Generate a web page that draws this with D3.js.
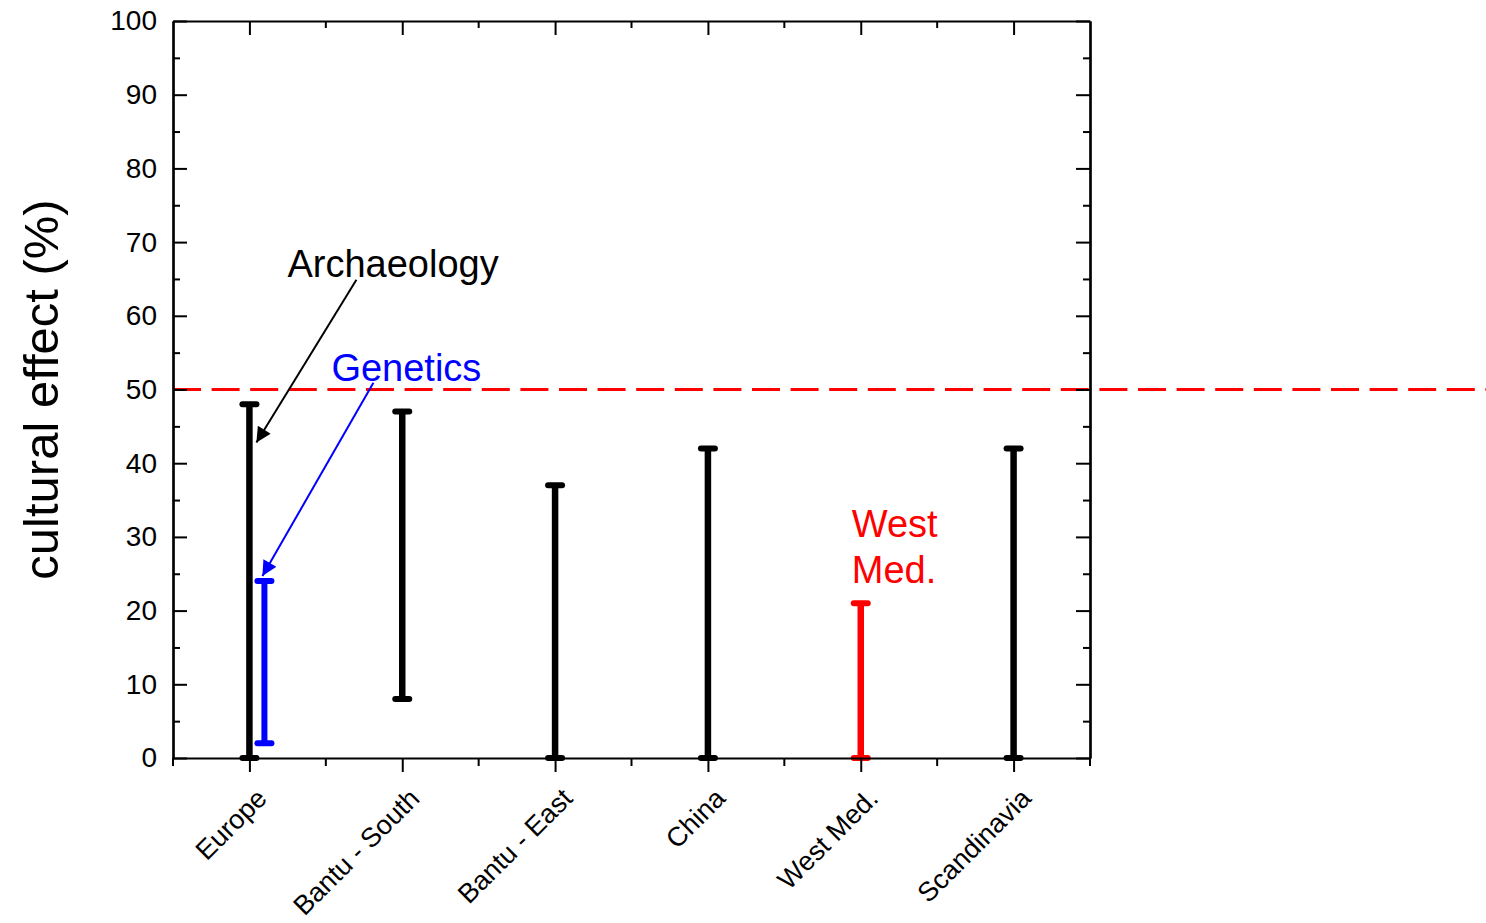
<!DOCTYPE html>
<html>
<head>
<meta charset="utf-8">
<script src="https://cdn.jsdelivr.net/npm/d3@7"></script>
<style>
  html, body { margin: 0; padding: 0; background: #fff; }
  svg { display: block; font-family: Arial, "Liberation Sans", sans-serif; }
</style>
</head>
<body>
<svg id="chart" width="1486" height="923"></svg>
<script>
// Ranges of the cultural effect estimated per region (percent)
const categories = ["Europe", "Bantu - South", "Bantu - East", "China", "West Med.", "Scandinavia"];
const archaeologyLow  = [0, 8, 0, 0, 0, 0];
const archaeologyHigh = [48, 47, 37, 42, 21, 42];

// Genetics-based estimate, available for Europe only
const geneticsCategories = ["Europe"];
const geneticsLow  = [2];
const geneticsHigh = [24];

// Reference level
const thresholdValue = 50;

const yMajorTicks = [0, 10, 20, 30, 40, 50, 60, 70, 80, 90, 100];
const yMinorTicks = [5, 15, 25, 35, 45, 55, 65, 75, 85, 95];

(function draw() {
  const svg = d3.select("#chart");
  const W = 1486;
  const plotL = 173, plotR = 1090, plotT = 21, plotB = 758;

  const x = d3.scalePoint().domain(categories).range([plotL, plotR]).padding(0.5);
  const xBand = d3.scaleBand().domain(categories).range([plotL, plotR]);
  const y = d3.scaleLinear().domain([0, 100]).range([plotB, plotT]);

  const rows = categories.map((c, i) => ({ cat: c, lo: archaeologyLow[i], hi: archaeologyHigh[i] }));
  const genRows = geneticsCategories.map((c, i) => ({ cat: c, lo: geneticsLow[i], hi: geneticsHigh[i] }));

  const colorFor = c => c === "West Med." ? "#ff0000" : "#000000";

  // reference line at 50 %
  svg.append("line")
    .attr("x1", plotL).attr("x2", W)
    .attr("y1", y(thresholdValue)).attr("y2", y(thresholdValue))
    .attr("stroke", "#ff0000").attr("stroke-width", 3)
    .attr("stroke-dasharray", "28,10.6");

  // range bars with caps
  function drawRanges(data, offset, color, width, capHalf) {
    const g = svg.append("g");
    g.selectAll("line.stem").data(data).join("line")
      .attr("class", "stem")
      .attr("x1", d => x(d.cat) + offset).attr("x2", d => x(d.cat) + offset)
      .attr("y1", d => y(d.lo)).attr("y2", d => y(d.hi))
      .attr("stroke", d => color || colorFor(d.cat))
      .attr("stroke-width", width);
    ["lo", "hi"].forEach(k => {
      g.selectAll("line.cap-" + k).data(data).join("line")
        .attr("class", "cap-" + k)
        .attr("x1", d => x(d.cat) + offset - capHalf).attr("x2", d => x(d.cat) + offset + capHalf)
        .attr("y1", d => y(d[k])).attr("y2", d => y(d[k]))
        .attr("stroke", d => color || colorFor(d.cat))
        .attr("stroke-width", 6)
        .attr("stroke-linecap", "round");
    });
  }
  drawRanges(rows, 0, null, 6.5, 7);
  drawRanges(genRows, 15, "#0000ff", 6, 7);

  // axes
  const axisG = svg.append("g").attr("class", "axes");

  const yLeft = axisG.append("g").attr("transform", `translate(${plotL},0)`)
    .call(d3.axisLeft(y).tickValues(yMajorTicks).tickSizeInner(-14).tickSizeOuter(0).tickPadding(16));
  axisG.append("g").attr("transform", `translate(${plotL},0)`)
    .call(d3.axisLeft(y).tickValues(yMinorTicks).tickSizeInner(-7).tickSizeOuter(0).tickFormat(""));
  axisG.append("g").attr("transform", `translate(${plotR},0)`)
    .call(d3.axisRight(y).tickValues(yMajorTicks).tickSizeInner(-14).tickSizeOuter(0).tickFormat(""));
  axisG.append("g").attr("transform", `translate(${plotR},0)`)
    .call(d3.axisRight(y).tickValues(yMinorTicks).tickSizeInner(-7).tickSizeOuter(0).tickFormat(""));

  axisG.append("g").attr("transform", `translate(0,${plotB})`)
    .call(d3.axisBottom(x).tickSizeInner(14).tickSizeOuter(0).tickFormat(""));
  // minor ticks on the band edges
  const edges = categories.map(c => xBand(c)).concat([plotR]);
  axisG.append("g").selectAll("line").data(edges).join("line")
    .attr("x1", d => d).attr("x2", d => d)
    .attr("y1", plotB).attr("y2", plotB + 8)
    .attr("stroke", "#000").attr("stroke-width", 2);

  axisG.append("g").attr("transform", `translate(0,${plotT})`)
    .call(d3.axisTop(x).tickSizeInner(-14).tickSizeOuter(0).tickFormat(""));
  axisG.append("g").selectAll("line").data(edges.slice(1, -1)).join("line")
    .attr("x1", d => d).attr("x2", d => d)
    .attr("y1", plotT).attr("y2", plotT + 7)
    .attr("stroke", "#000").attr("stroke-width", 2);

  axisG.selectAll(".domain").attr("stroke", "#000").attr("stroke-width", 2.2);
  axisG.selectAll(".tick line").attr("stroke", "#000").attr("stroke-width", 2);
  yLeft.selectAll(".tick text")
    .attr("font-size", 28).attr("fill", "#000")
    .attr("font-family", "Arial, 'Liberation Sans', sans-serif");

  // rotated category labels
  svg.append("g").selectAll("text").data(categories).join("text")
    .attr("transform", d => `translate(${x(d) + 19},${plotB + 42}) rotate(-45)`)
    .attr("text-anchor", "end")
    .attr("font-size", 27)
    .attr("fill", "#000")
    .text(d => d);

  // y-axis title
  svg.append("text")
    .attr("transform", `translate(58,${(plotT + plotB) / 2}) rotate(-90)`)
    .attr("text-anchor", "middle")
    .attr("font-size", 49)
    .attr("fill", "#000")
    .text("cultural effect (%)");

  // annotations
  const defs = svg.append("defs");
  function marker(id, color) {
    defs.append("marker")
      .attr("id", id).attr("viewBox", "0 0 10 10")
      .attr("refX", 10).attr("refY", 5)
      .attr("markerUnits", "userSpaceOnUse")
      .attr("markerWidth", 22).attr("markerHeight", 15)
      .attr("orient", "auto")
      .append("path").attr("d", "M0,0 L10,5 L0,10 Z").attr("fill", color);
  }
  marker("arrowBlack", "#000");
  marker("arrowBlue", "#0000ff");

  const europeX = x("Europe");

  svg.append("line")
    .attr("x1", europeX + 107).attr("y1", y(64.9))
    .attr("x2", europeX + 7).attr("y2", y(42.8))
    .attr("stroke", "#000").attr("stroke-width", 2)
    .attr("marker-end", "url(#arrowBlack)");
  svg.append("text")
    .attr("x", europeX + 38).attr("y", y(65.3))
    .attr("font-size", 38).attr("fill", "#000")
    .text("Archaeology");

  svg.append("line")
    .attr("x1", europeX + 124).attr("y1", y(50.9))
    .attr("x2", europeX + 13).attr("y2", y(24.7))
    .attr("stroke", "#0000ff").attr("stroke-width", 2)
    .attr("marker-end", "url(#arrowBlue)");
  svg.append("text")
    .attr("x", europeX + 82).attr("y", y(51.1))
    .attr("font-size", 38).attr("fill", "#0000ff")
    .text("Genetics");

  const wmX = x("West Med.") - 9;
  const wm = svg.append("text")
    .attr("x", wmX).attr("y", y(30.0))
    .attr("font-size", 38).attr("fill", "#ff0000");
  wm.append("tspan").attr("x", wmX).text("West");
  wm.append("tspan").attr("x", wmX).attr("dy", 46).text("Med.");
})();
</script>
</body>
</html>
